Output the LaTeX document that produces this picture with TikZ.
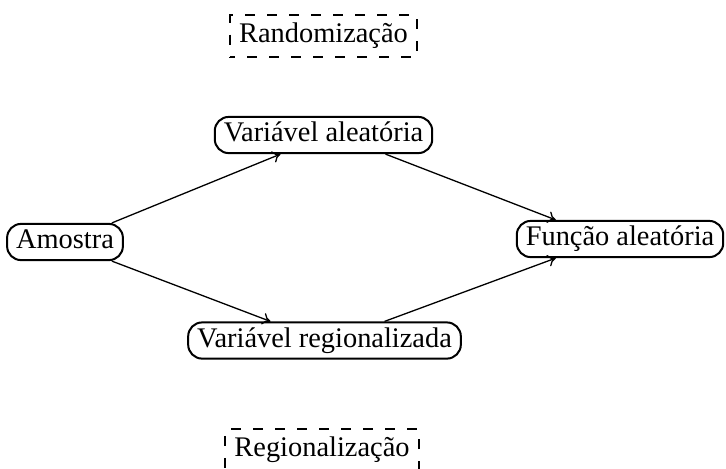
\documentclass[tikz,border=0pt]{standalone}
\usepackage{fontspec}
\setmainfont{Liberation Serif}
\usetikzlibrary{arrows.meta,calc}
\tikzset{
  termbox/.style={draw, line width=1pt, rounded corners=7pt, inner xsep=4.5pt, inner ysep=2.3pt,
    text height=10pt, text depth=3.5pt, font=\fontsize{14.2}{17}\selectfont},
  dashbox/.style={draw, line width=1pt, dash pattern=on 5pt off 6pt, dash phase=2.5pt, inner xsep=4.5pt, inner ysep=3.75pt,
    text height=10pt, text depth=3.5pt, font=\fontsize{14.2}{17}\selectfont},
  link/.style={line width=0.65pt, -{To[length=4pt,width=6pt]}}
}
\begin{document}
\begin{tikzpicture}[x=0.5pt,y=-0.5pt]
\useasboundingbox (0,0) rectangle (726,468);
\node[dashbox] (rand) at (323.5,36) {Randomização};
\node[dashbox] (reg) at (322,450) {Regionalização};
\node[termbox] (am) at (65,242) {Amostra};
\node[termbox] (va) at (323.5,135) {Variável aleatória};
\node[termbox] (vr) at (324.5,340.5) {Variável regionalizada};
\node[termbox] (fa) at (620,239) {Função aleatória};
\draw[link] ([xshift=-6pt]am.north east) -- ([xshift=-21.5pt]va.south);
\draw[link] ([xshift=-6pt]am.south east) -- ([xshift=-27pt]vr.north);
\draw[link] ([xshift=31pt]va.south) -- ([xshift=20pt]fa.north west);
\draw[link] ([xshift=30pt]vr.north) -- ([xshift=20pt]fa.south west);
\end{tikzpicture}
\end{document}
